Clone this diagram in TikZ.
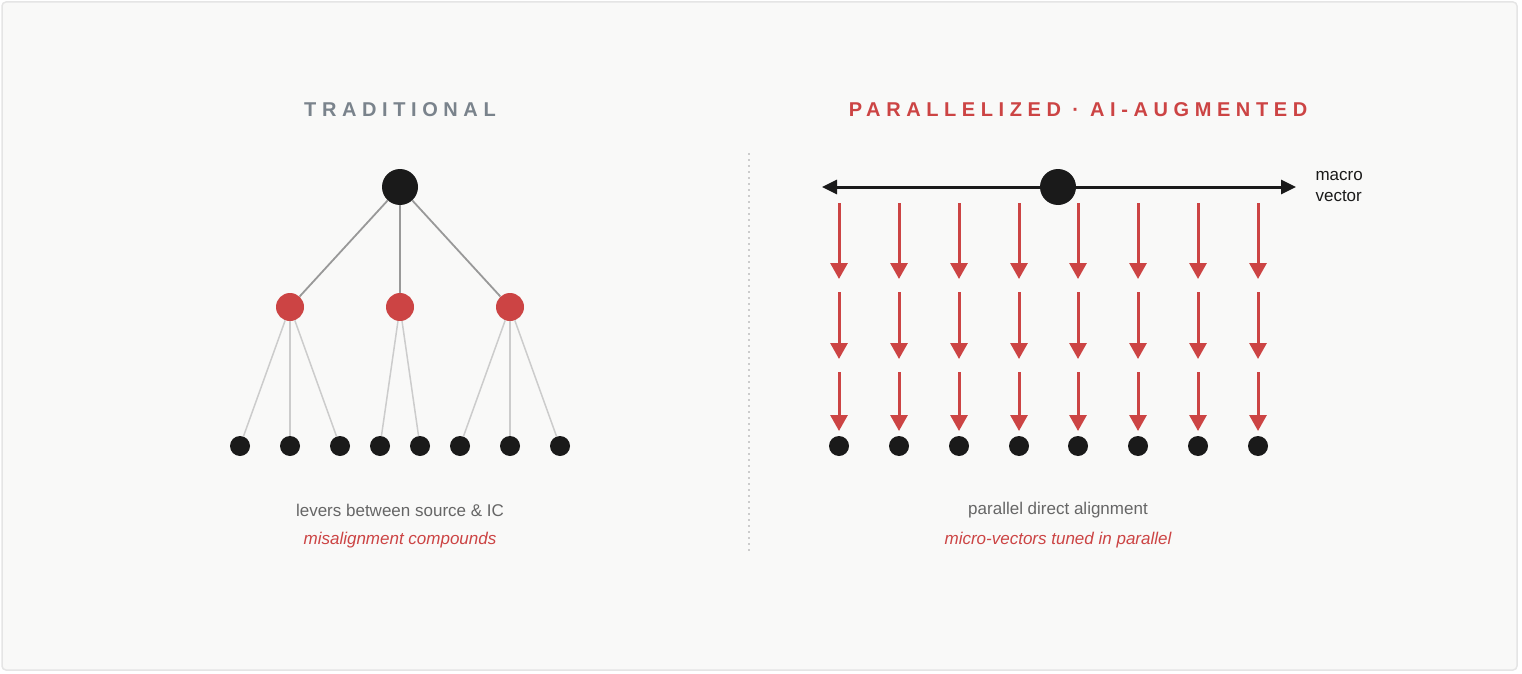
\documentclass[tikz,border=0pt]{standalone}
\usepackage{fontspec}
\setmainfont{Liberation Sans}
\newfontfamily\spaced[LetterSpace=28]{Liberation Sans}
\usetikzlibrary{arrows.meta}
\definecolor{bg}{HTML}{F9F9F8}
\definecolor{redc}{HTML}{CC4444}
\definecolor{dark}{HTML}{1A1A1A}
\definecolor{greyt}{HTML}{7A838C}
\begin{document}
\begin{tikzpicture}[x=1pt,y=-1pt,
  dot/.style={circle,fill=dark,inner sep=0,minimum size=20pt},
  big/.style={circle,fill=dark,inner sep=0,minimum size=36pt},
  mid/.style={circle,fill=redc,inner sep=0,minimum size=28pt},
  title/.style={font=\spaced\bfseries\fontsize{20}{24}\selectfont},
  captxt/.style={font=\fontsize{17}{20}\selectfont,text=black!60},
  capred/.style={font=\itshape\fontsize{17}{20}\selectfont,text=redc},
  trunk/.style={draw=black!40,line width=1.8pt},
  twig/.style={draw=black!20,line width=1.5pt},
  rarrow/.style={draw=redc,line width=3pt,-{Triangle[width=17pt,length=16pt]}}]
\useasboundingbox (0,0) rectangle (1522,674);
\draw[fill=bg,draw=black!10,line width=1.5pt,rounded corners=4pt] (2,2) rectangle (1517,670);
% left
\node[title,text=greyt] (tl) at (400,110) {TRADITIONAL};
\node[big] (r) at (400,187) {};
\foreach \i/\x in {1/290,2/400,3/510} \node[mid] (m\i) at (\x,307) {};
\foreach \i/\x in {1/240,2/290,3/340,4/380,5/420,6/460,7/510,8/560} \node[dot] (l\i) at (\x,446) {};
\foreach \i in {1,2,3} \draw[trunk] (r) -- (m\i);
\foreach \i in {1,2,3} \draw[twig] (m1) -- (l\i);
\foreach \i in {4,5} \draw[twig] (m2) -- (l\i);
\foreach \i in {6,7,8} \draw[twig] (m3) -- (l\i);
\node[captxt] (c1) at (400,510) {levers between source \& IC};
\node[capred] (c2) at (400,540) {misalignment compounds};
% divider
\draw[draw=black!20,line width=2pt,dash pattern=on 2pt off 4pt] (749,153) -- (749,552);
% right
\node[title,text=redc] (tr) at (1078,110) {PARALLELIZED · AI-AUGMENTED};
\coordinate (hl) at (822,187);
\coordinate (hr) at (1296,187);
\draw[draw=dark,line width=3pt,{Triangle[width=14pt,length=15pt]}-{Triangle[width=14pt,length=15pt]}] (hl) -- (hr);
\node[big] (h) at (1058,187) {};
\node[anchor=west,align=left,font=\fontsize{17}{21}\selectfont,text=dark] (mv) at (1312,187) {macro\\vector};
\foreach \i/\x in {1/839,2/899,3/959,4/1019,5/1078,6/1138,7/1198,8/1258}{
  \node[dot] (b\i) at (\x,446) {};
  \coordinate (a\i) at (\x,203); \coordinate (A\i) at (\x,279);
  \coordinate (p\i) at (\x,292); \coordinate (P\i) at (\x,359);
  \coordinate (q\i) at (\x,372); \coordinate (Q\i) at (\x,431);
  \draw[rarrow] (a\i) -- (A\i);
  \draw[rarrow] (p\i) -- (P\i);
  \draw[rarrow] (q\i) -- (Q\i);
}
\node[captxt] (d1) at (1058,510) {parallel direct alignment};
\node[capred] (d2) at (1058,540) {micro-vectors tuned in parallel};
\end{tikzpicture}
\end{document}
